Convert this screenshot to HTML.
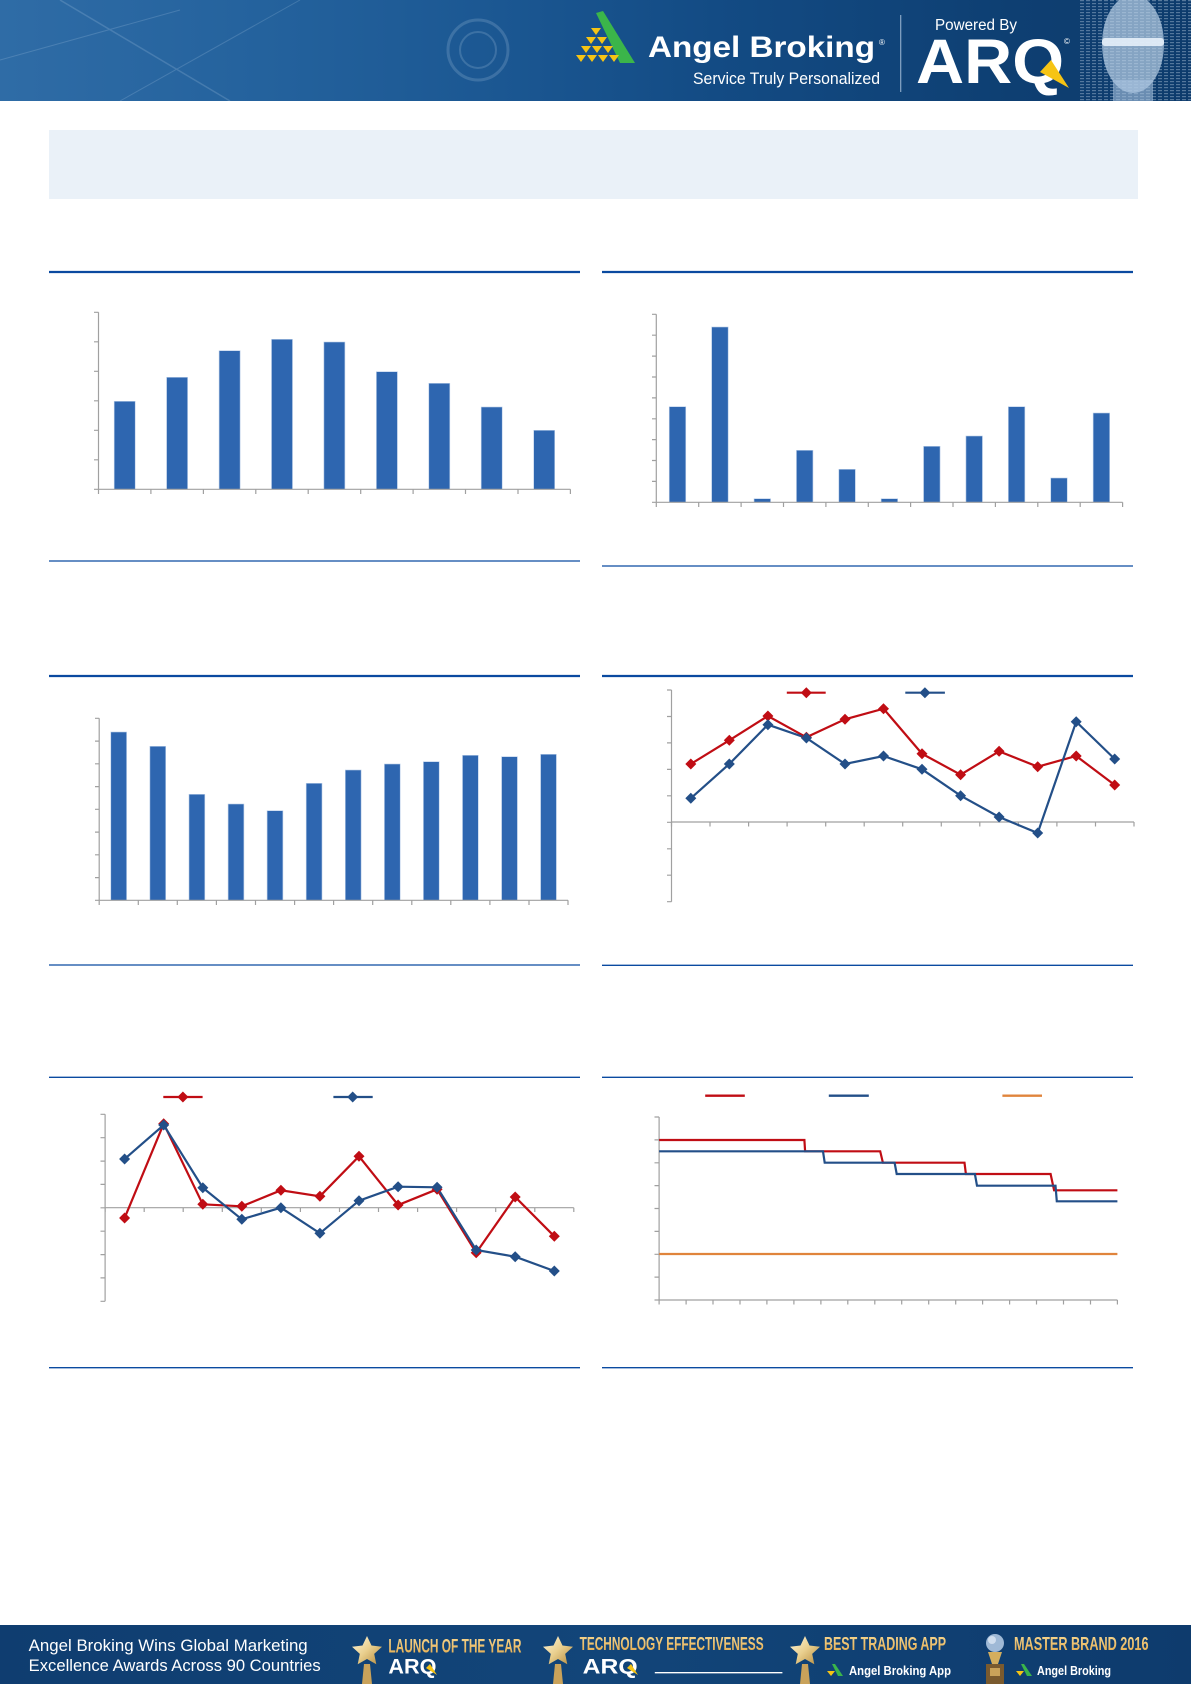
<!DOCTYPE html>
<html><head><meta charset="utf-8"><style>
html,body{margin:0;padding:0;background:#fff;}
svg{display:block;}
</style></head><body>
<svg width="1191" height="1684" viewBox="0 0 1191 1684" xmlns="http://www.w3.org/2000/svg" font-family="'Liberation Sans', sans-serif">
<defs>
<linearGradient id="hdr" x1="0" y1="0" x2="1" y2="0">
<stop offset="0" stop-color="#2f6ca6"/><stop offset="0.22" stop-color="#24629d"/><stop offset="0.42" stop-color="#1b5792"/><stop offset="0.6" stop-color="#134b84"/><stop offset="0.85" stop-color="#0e3f72"/><stop offset="1" stop-color="#0d3b6c"/>
</linearGradient>
<linearGradient id="ftr" x1="0" y1="0" x2="1" y2="0">
<stop offset="0" stop-color="#0f3d70"/><stop offset="0.5" stop-color="#124579"/><stop offset="1" stop-color="#0e3b6d"/>
</linearGradient>
<linearGradient id="gold" x1="0" y1="0" x2="0" y2="1">
<stop offset="0" stop-color="#f7d894"/><stop offset="1" stop-color="#e2a94a"/>
</linearGradient>
<linearGradient id="star" x1="0" y1="0" x2="1" y2="1">
<stop offset="0" stop-color="#fff6dc"/><stop offset="0.5" stop-color="#e9cf8e"/><stop offset="1" stop-color="#b58a3c"/>
</linearGradient>
<pattern id="dash" width="6" height="3" patternUnits="userSpaceOnUse"><rect x="0" y="0" width="4" height="1.2" fill="#d8e6f4"/></pattern>
</defs>

<!-- HEADER -->
<rect x="0" y="0" width="1191" height="101" fill="url(#hdr)"/>
<g opacity="0.18" stroke="#cfe2f5" fill="none">
<line x1="60" y1="0" x2="230" y2="101" stroke-width="1.5"/>
<line x1="0" y1="60" x2="180" y2="10" stroke-width="1"/>
<line x1="120" y1="101" x2="300" y2="0" stroke-width="1"/>
<circle cx="478" cy="50" r="30" stroke-width="3"/>
<circle cx="478" cy="50" r="18" stroke-width="2"/>
</g>
<rect x="1078" y="0" width="113" height="101" fill="url(#dash)" opacity="0.35"/>
<ellipse cx="1133" cy="44" rx="31" ry="49" fill="#b9d0e7" opacity="0.7"/>
<rect x="1113" y="80" width="40" height="21" fill="#a8c3df" opacity="0.6"/>
<rect x="1102" y="38" width="62" height="8" rx="3" fill="#e6eff9" opacity="0.9"/>
<!-- logo icon -->
<polygon points="596,13 603,11 635,63 620,63" fill="#3bb54a"/>
<g fill="#f6c414">
<polygon points="591,28 601,28 596,35"/>
<polygon points="586,37 596,37 591,44"/><polygon points="597,37 607,37 602,44"/>
<polygon points="581,46 591,46 586,53"/><polygon points="592,46 602,46 597,53"/><polygon points="603,46 613,46 608,53"/>
<polygon points="576,55 586,55 581,62"/><polygon points="587,55 597,55 592,62"/><polygon points="598,55 608,55 603,62"/><polygon points="609,55 619,55 614,62"/>
</g>
<text x="648" y="57" font-size="30" font-weight="bold" fill="#fff" textLength="227" lengthAdjust="spacingAndGlyphs">Angel Broking</text>
<text x="879" y="45" font-size="8" fill="#fff">®</text>
<text x="693" y="84" font-size="17" fill="#fff" textLength="187" lengthAdjust="spacingAndGlyphs">Service Truly Personalized</text>
<line x1="900.7" y1="15" x2="900.7" y2="92" stroke="#8aa7c6" stroke-width="1.2"/>
<text x="935" y="30" font-size="15.5" fill="#fff" textLength="82" lengthAdjust="spacingAndGlyphs">Powered By</text>
<text x="916" y="83" font-size="63" font-weight="bold" fill="#fff" textLength="148" lengthAdjust="spacingAndGlyphs">ARQ</text>
<polygon points="1040,72 1051,60 1069,88" fill="#f6c414"/>
<text x="1064" y="44" font-size="8" fill="#fff">©</text>

<!-- summary band -->
<rect x="49" y="130" width="1089" height="69" fill="#eaf1f8"/>

<!-- section lines -->
<g stroke="#0a4aa0">
<line x1="49" y1="272" x2="580" y2="272" stroke-width="2.2"/>
<line x1="602" y1="272" x2="1133" y2="272" stroke-width="2.2"/>
<line x1="49" y1="561" x2="580" y2="561" stroke-width="1.3"/>
<line x1="602" y1="566" x2="1133" y2="566" stroke-width="1.3"/>
<line x1="49" y1="676" x2="580" y2="676" stroke-width="2.2"/>
<line x1="602" y1="676" x2="1133" y2="676" stroke-width="2.2"/>
<line x1="49" y1="965" x2="580" y2="965" stroke-width="1.3"/>
<line x1="602" y1="965.3" x2="1133" y2="965.3" stroke-width="1.3"/>
<line x1="49" y1="1077.3" x2="580" y2="1077.3" stroke-width="1.4"/>
<line x1="602" y1="1077.3" x2="1133" y2="1077.3" stroke-width="1.4"/>
<line x1="49" y1="1367.7" x2="580" y2="1367.7" stroke-width="1.3"/>
<line x1="602" y1="1367.7" x2="1133" y2="1367.7" stroke-width="1.3"/>
</g>

<!-- CHART 1 -->
<g fill="#2e66b0" stroke="#b9cde8" stroke-width="0.6">
<rect x="114.2" y="401.3" width="21" height="88"/>
<rect x="166.6" y="377.3" width="21" height="112"/>
<rect x="219.1" y="350.7" width="21" height="138.6"/>
<rect x="271.5" y="339.3" width="21" height="150"/>
<rect x="323.9" y="342" width="21" height="147.3"/>
<rect x="376.4" y="371.7" width="21" height="117.6"/>
<rect x="428.8" y="383.3" width="21" height="106"/>
<rect x="481.2" y="407" width="21" height="82.3"/>
<rect x="533.7" y="430.3" width="21" height="59"/>
</g>
<g stroke="#a0a0a0" stroke-width="1.2" fill="none">
<line x1="98.5" y1="312.3" x2="98.5" y2="489.3"/>
<line x1="98.5" y1="489.3" x2="570.4" y2="489.3"/>
<path d="M94 312.3H98.5M94 341.8H98.5M94 371.3H98.5M94 400.8H98.5M94 430.3H98.5M94 459.8H98.5M94 489.3H98.5"/>
<path d="M98.5 489.3V494M150.9 489.3V494M203.4 489.3V494M255.8 489.3V494M308.2 489.3V494M360.7 489.3V494M413.1 489.3V494M465.5 489.3V494M518 489.3V494M570.4 489.3V494"/>
</g>

<!-- CHART 2 -->
<g fill="#2e66b0" stroke="#b9cde8" stroke-width="0.6">
<rect x="669.25" y="406.7" width="16.5" height="95.6"/>
<rect x="711.65" y="327" width="16.5" height="175.3"/>
<rect x="754.05" y="498.7" width="16.5" height="3.6"/>
<rect x="796.45" y="450.3" width="16.5" height="52"/>
<rect x="838.85" y="469.3" width="16.5" height="33"/>
<rect x="881.15" y="498.7" width="16.5" height="3.6"/>
<rect x="923.55" y="446.3" width="16.5" height="56"/>
<rect x="965.95" y="436" width="16.5" height="66.3"/>
<rect x="1008.35" y="406.7" width="16.5" height="95.6"/>
<rect x="1050.75" y="478" width="16.5" height="24.3"/>
<rect x="1093.15" y="413" width="16.5" height="89.3"/>
</g>
<g stroke="#a0a0a0" stroke-width="1.2" fill="none">
<line x1="656.3" y1="314.3" x2="656.3" y2="502.3"/>
<line x1="656.3" y1="502.3" x2="1122.6" y2="502.3"/>
<path d="M652 314.3H656.3M652 335.2H656.3M652 356.1H656.3M652 377H656.3M652 397.9H656.3M652 418.8H656.3M652 439.6H656.3M652 460.5H656.3M652 481.4H656.3M652 502.3H656.3"/>
<path d="M656.3 502.3V507M698.7 502.3V507M741.1 502.3V507M783.5 502.3V507M825.9 502.3V507M868.3 502.3V507M910.6 502.3V507M953 502.3V507M995.4 502.3V507M1037.8 502.3V507M1080.2 502.3V507M1122.6 502.3V507"/>
</g>

<!-- CHART 3 -->
<g fill="#2e66b0" stroke="#b9cde8" stroke-width="0.6">
<rect x="110.8" y="732" width="15.8" height="168.3"/>
<rect x="149.9" y="746.3" width="15.8" height="154"/>
<rect x="189" y="794.3" width="15.8" height="106"/>
<rect x="228.1" y="804" width="15.8" height="96.3"/>
<rect x="267.1" y="810.7" width="15.8" height="89.6"/>
<rect x="306.2" y="783.3" width="15.8" height="117"/>
<rect x="345.3" y="770" width="15.8" height="130.3"/>
<rect x="384.4" y="764" width="15.8" height="136.3"/>
<rect x="423.4" y="761.7" width="15.8" height="138.6"/>
<rect x="462.5" y="755.3" width="15.8" height="145"/>
<rect x="501.6" y="756.7" width="15.8" height="143.6"/>
<rect x="540.6" y="754.3" width="15.8" height="146"/>
</g>
<g stroke="#a0a0a0" stroke-width="1.2" fill="none">
<line x1="99.2" y1="718.3" x2="99.2" y2="900.3"/>
<line x1="99.2" y1="900.3" x2="568" y2="900.3"/>
<path d="M95 718.3H99.2M95 741.1H99.2M95 763.8H99.2M95 786.6H99.2M95 809.3H99.2M95 832.1H99.2M95 854.8H99.2M95 877.6H99.2M95 900.3H99.2"/>
<path d="M99.2 900.3V905M138.3 900.3V905M177.3 900.3V905M216.4 900.3V905M255.5 900.3V905M294.6 900.3V905M333.6 900.3V905M372.7 900.3V905M411.8 900.3V905M450.8 900.3V905M489.9 900.3V905M529 900.3V905M568 900.3V905"/>
</g>

<!-- CHART 4 -->
<g stroke="#a0a0a0" stroke-width="1.2" fill="none">
<line x1="671.5" y1="690" x2="671.5" y2="901.7"/>
<line x1="671.5" y1="822" x2="1134" y2="822"/>
<path d="M667 690H671.5M667 716.5H671.5M667 742.9H671.5M667 769.4H671.5M667 795.8H671.5M667 822.3H671.5M667 848.8H671.5M667 875.2H671.5M667 901.7H671.5"/>
<path d="M671.5 822V826.5M710 822V826.5M748.6 822V826.5M787.1 822V826.5M825.7 822V826.5M864.2 822V826.5M902.7 822V826.5M941.3 822V826.5M979.8 822V826.5M1018.4 822V826.5M1056.9 822V826.5M1095.5 822V826.5M1134 822V826.5"/>
</g>
<polyline fill="none" stroke="#c00d14" stroke-width="2.2" points="690.8,764 729.3,740.3 767.9,716 806.4,737.3 845,719.3 883.5,708.7 922,753.7 960.6,774.7 999.1,751.3 1037.7,766.7 1076.2,756 1114.7,785"/>
<polyline fill="none" stroke="#234f88" stroke-width="2.2" points="690.8,798.3 729.3,764 767.9,724.7 806.4,738 845,764 883.5,756 922,769.3 960.6,795.7 999.1,817 1037.7,833 1076.2,721.7 1114.7,759"/>
<g fill="#c00d14">
<path d="M690.8 758.5l5.5 5.5-5.5 5.5-5.5-5.5z"/><path d="M729.3 734.8l5.5 5.5-5.5 5.5-5.5-5.5z"/><path d="M767.9 710.5l5.5 5.5-5.5 5.5-5.5-5.5z"/><path d="M806.4 731.8l5.5 5.5-5.5 5.5-5.5-5.5z"/><path d="M845 713.8l5.5 5.5-5.5 5.5-5.5-5.5z"/><path d="M883.5 703.2l5.5 5.5-5.5 5.5-5.5-5.5z"/><path d="M922 748.2l5.5 5.5-5.5 5.5-5.5-5.5z"/><path d="M960.6 769.2l5.5 5.5-5.5 5.5-5.5-5.5z"/><path d="M999.1 745.8l5.5 5.5-5.5 5.5-5.5-5.5z"/><path d="M1037.7 761.2l5.5 5.5-5.5 5.5-5.5-5.5z"/><path d="M1076.2 750.5l5.5 5.5-5.5 5.5-5.5-5.5z"/><path d="M1114.7 779.5l5.5 5.5-5.5 5.5-5.5-5.5z"/>
</g>
<g fill="#234f88">
<path d="M690.8 792.8l5.5 5.5-5.5 5.5-5.5-5.5z"/><path d="M729.3 758.5l5.5 5.5-5.5 5.5-5.5-5.5z"/><path d="M767.9 719.2l5.5 5.5-5.5 5.5-5.5-5.5z"/><path d="M806.4 732.5l5.5 5.5-5.5 5.5-5.5-5.5z"/><path d="M845 758.5l5.5 5.5-5.5 5.5-5.5-5.5z"/><path d="M883.5 750.5l5.5 5.5-5.5 5.5-5.5-5.5z"/><path d="M922 763.8l5.5 5.5-5.5 5.5-5.5-5.5z"/><path d="M960.6 790.2l5.5 5.5-5.5 5.5-5.5-5.5z"/><path d="M999.1 811.5l5.5 5.5-5.5 5.5-5.5-5.5z"/><path d="M1037.7 827.5l5.5 5.5-5.5 5.5-5.5-5.5z"/><path d="M1076.2 716.2l5.5 5.5-5.5 5.5-5.5-5.5z"/><path d="M1114.7 753.5l5.5 5.5-5.5 5.5-5.5-5.5z"/>
</g>
<line x1="786.8" y1="692.7" x2="825.7" y2="692.7" stroke="#c00d14" stroke-width="2.2"/>
<path d="M806.3 687.2l5.5 5.5-5.5 5.5-5.5-5.5z" fill="#c00d14"/>
<line x1="905.3" y1="692.7" x2="944.9" y2="692.7" stroke="#234f88" stroke-width="2.2"/>
<path d="M924.9 687.2l5.5 5.5-5.5 5.5-5.5-5.5z" fill="#234f88"/>

<!-- CHART 5 -->
<g stroke="#a0a0a0" stroke-width="1.2" fill="none">
<line x1="105.1" y1="1114.3" x2="105.1" y2="1301.3"/>
<line x1="105.1" y1="1207.7" x2="573.8" y2="1207.7"/>
<path d="M100.5 1114.3H105.1M100.5 1137.7H105.1M100.5 1161.1H105.1M100.5 1184.4H105.1M100.5 1207.8H105.1M100.5 1231.2H105.1M100.5 1254.6H105.1M100.5 1277.9H105.1M100.5 1301.3H105.1"/>
<path d="M105.1 1207.7V1212M144.2 1207.7V1212M183.2 1207.7V1212M222.3 1207.7V1212M261.3 1207.7V1212M300.4 1207.7V1212M339.5 1207.7V1212M378.5 1207.7V1212M417.6 1207.7V1212M456.6 1207.7V1212M495.7 1207.7V1212M534.8 1207.7V1212M573.8 1207.7V1212"/>
</g>
<polyline fill="none" stroke="#c00d14" stroke-width="2.2" points="124.6,1218 163.7,1123.7 202.8,1204.3 241.8,1206.3 280.9,1190.3 319.9,1196.3 359,1156.3 398.1,1205 437.1,1189.3 476.2,1252.7 515.2,1197 554.3,1236.3"/>
<polyline fill="none" stroke="#234f88" stroke-width="2.2" points="124.6,1159 163.7,1125 202.8,1187.7 241.8,1219.3 280.9,1207.7 319.9,1233.3 359,1200.7 398.1,1186.7 437.1,1187.3 476.2,1250 515.2,1256.7 554.3,1271"/>
<g fill="#c00d14">
<path d="M124.6 1212.5l5.5 5.5-5.5 5.5-5.5-5.5z"/><path d="M163.7 1118.2l5.5 5.5-5.5 5.5-5.5-5.5z"/><path d="M202.8 1198.8l5.5 5.5-5.5 5.5-5.5-5.5z"/><path d="M241.8 1200.8l5.5 5.5-5.5 5.5-5.5-5.5z"/><path d="M280.9 1184.8l5.5 5.5-5.5 5.5-5.5-5.5z"/><path d="M319.9 1190.8l5.5 5.5-5.5 5.5-5.5-5.5z"/><path d="M359 1150.8l5.5 5.5-5.5 5.5-5.5-5.5z"/><path d="M398.1 1199.5l5.5 5.5-5.5 5.5-5.5-5.5z"/><path d="M437.1 1183.8l5.5 5.5-5.5 5.5-5.5-5.5z"/><path d="M476.2 1247.2l5.5 5.5-5.5 5.5-5.5-5.5z"/><path d="M515.2 1191.5l5.5 5.5-5.5 5.5-5.5-5.5z"/><path d="M554.3 1230.8l5.5 5.5-5.5 5.5-5.5-5.5z"/>
</g>
<g fill="#234f88">
<path d="M124.6 1153.5l5.5 5.5-5.5 5.5-5.5-5.5z"/><path d="M163.7 1119.5l5.5 5.5-5.5 5.5-5.5-5.5z"/><path d="M202.8 1182.2l5.5 5.5-5.5 5.5-5.5-5.5z"/><path d="M241.8 1213.8l5.5 5.5-5.5 5.5-5.5-5.5z"/><path d="M280.9 1202.2l5.5 5.5-5.5 5.5-5.5-5.5z"/><path d="M319.9 1227.8l5.5 5.5-5.5 5.5-5.5-5.5z"/><path d="M359 1195.2l5.5 5.5-5.5 5.5-5.5-5.5z"/><path d="M398.1 1181.2l5.5 5.5-5.5 5.5-5.5-5.5z"/><path d="M437.1 1181.8l5.5 5.5-5.5 5.5-5.5-5.5z"/><path d="M476.2 1244.5l5.5 5.5-5.5 5.5-5.5-5.5z"/><path d="M515.2 1251.2l5.5 5.5-5.5 5.5-5.5-5.5z"/><path d="M554.3 1265.5l5.5 5.5-5.5 5.5-5.5-5.5z"/>
</g>
<line x1="163.3" y1="1097" x2="202.6" y2="1097" stroke="#c00d14" stroke-width="2.2"/>
<path d="M182.9 1091.5l5.5 5.5-5.5 5.5-5.5-5.5z" fill="#c00d14"/>
<line x1="333.4" y1="1097" x2="372.7" y2="1097" stroke="#234f88" stroke-width="2.2"/>
<path d="M352.7 1091.5l5.5 5.5-5.5 5.5-5.5-5.5z" fill="#234f88"/>

<!-- CHART 6 -->
<g stroke="#a0a0a0" stroke-width="1.2" fill="none">
<line x1="659.1" y1="1117" x2="659.1" y2="1300"/>
<line x1="659.1" y1="1300" x2="1117.4" y2="1300"/>
<path d="M654.5 1117H659.1M654.5 1139.9H659.1M654.5 1162.8H659.1M654.5 1185.6H659.1M654.5 1208.5H659.1M654.5 1231.4H659.1M654.5 1254.3H659.1M654.5 1277.1H659.1M654.5 1300H659.1"/>
<path d="M659.1 1300V1304.5M686.1 1300V1304.5M713 1300V1304.5M740 1300V1304.5M766.9 1300V1304.5M793.9 1300V1304.5M820.9 1300V1304.5M847.8 1300V1304.5M874.8 1300V1304.5M901.7 1300V1304.5M928.7 1300V1304.5M955.7 1300V1304.5M982.6 1300V1304.5M1009.6 1300V1304.5M1036.5 1300V1304.5M1063.5 1300V1304.5M1090.5 1300V1304.5M1117.4 1300V1304.5"/>
</g>
<line x1="659.1" y1="1254" x2="1117.4" y2="1254" stroke="#e0843c" stroke-width="2.2"/>
<polyline fill="none" stroke="#c00d14" stroke-width="2.2" points="659.1,1140 804.4,1140 805.1,1151.3 880.2,1151.3 882.9,1162.7 964.5,1162.7 965.9,1174 1050.6,1174 1054.1,1190.3 1117.4,1190.3"/>
<polyline fill="none" stroke="#234f88" stroke-width="2.2" points="659.1,1151.3 823,1151.3 824.7,1162.7 894.6,1162.7 896.7,1174 974.9,1174 977,1185.7 1055.5,1185.7 1056.8,1201.3 1117.4,1201.3"/>
<line x1="705.2" y1="1095.7" x2="744.8" y2="1095.7" stroke="#c00d14" stroke-width="2.4"/>
<line x1="828.8" y1="1095.7" x2="868.8" y2="1095.7" stroke="#234f88" stroke-width="2.4"/>
<line x1="1002.4" y1="1095.7" x2="1042" y2="1095.7" stroke="#e0843c" stroke-width="2.4"/>

<!-- FOOTER -->
<rect x="0" y="1625" width="1191" height="59" fill="url(#ftr)"/>
<text x="28.7" y="1651" font-size="16.5" fill="#fff" textLength="279" lengthAdjust="spacingAndGlyphs">Angel Broking Wins Global Marketing</text>
<text x="28.7" y="1671" font-size="16.5" fill="#fff" textLength="292" lengthAdjust="spacingAndGlyphs">Excellence Awards Across 90 Countries</text>

<!-- award 1 -->
<path d="M367 1636l4.5 9.5 10.5 1.2-7.8 7.2 2.1 10.3-9.3-5.2-9.3 5.2 2.1-10.3-7.8-7.2 10.5-1.2z" fill="url(#star)"/>
<path d="M364 1664h6l2 20h-10z" fill="#c9a25a"/>
<text x="388.4" y="1652.3" font-size="19.5" font-weight="bold" fill="url(#gold)" textLength="133" lengthAdjust="spacingAndGlyphs">LAUNCH OF THE YEAR</text>
<text x="388.4" y="1673.3" font-size="21" font-weight="bold" fill="#fff" textLength="48" lengthAdjust="spacingAndGlyphs">ARQ</text>
<polygon points="426,1668 430,1664 437,1675" fill="#f6c414"/>

<!-- award 2 -->
<path d="M558 1636l4.5 9.5 10.5 1.2-7.8 7.2 2.1 10.3-9.3-5.2-9.3 5.2 2.1-10.3-7.8-7.2 10.5-1.2z" fill="url(#star)"/>
<path d="M555 1664h6l2 20h-10z" fill="#c9a25a"/>
<text x="579.6" y="1650" font-size="18" font-weight="bold" fill="url(#gold)" textLength="184" lengthAdjust="spacingAndGlyphs">TECHNOLOGY EFFECTIVENESS</text>
<text x="582.6" y="1673.3" font-size="21" font-weight="bold" fill="#fff" textLength="55" lengthAdjust="spacingAndGlyphs">ARQ</text>
<polygon points="627,1668 631,1664 638,1675" fill="#f6c414"/>
<line x1="654.8" y1="1672.7" x2="782.4" y2="1672.7" stroke="#fff" stroke-width="1.3"/>

<!-- award 3 -->
<path d="M805 1636l4.5 9.5 10.5 1.2-7.8 7.2 2.1 10.3-9.3-5.2-9.3 5.2 2.1-10.3-7.8-7.2 10.5-1.2z" fill="url(#star)"/>
<path d="M802 1664h6l2 20h-10z" fill="#c9a25a"/>
<text x="824" y="1650" font-size="18" font-weight="bold" fill="url(#gold)" textLength="122" lengthAdjust="spacingAndGlyphs">BEST TRADING APP</text>
<polygon points="832,1664 835,1664 843,1676 838,1676" fill="#3bb54a"/>
<polygon points="827,1671 835,1671 831,1676" fill="#f6c414"/>
<text x="849" y="1675" font-size="13" font-weight="bold" fill="#fff" textLength="102" lengthAdjust="spacingAndGlyphs">Angel Broking App</text>

<!-- award 4 -->
<circle cx="995" cy="1643" r="9" fill="#9fb9d6"/>
<circle cx="992" cy="1640" r="4" fill="#e6eef8" opacity="0.7"/>
<path d="M988 1652h14l-4 12h-6z" fill="#d4ae5e"/>
<rect x="986" y="1664" width="18" height="20" fill="#7a5a2e"/>
<rect x="990" y="1668" width="10" height="8" fill="#c9a25a"/>
<text x="1014" y="1650" font-size="18" font-weight="bold" fill="url(#gold)" textLength="134.5" lengthAdjust="spacingAndGlyphs">MASTER BRAND 2016</text>
<polygon points="1021,1664 1024,1664 1032,1676 1027,1676" fill="#3bb54a"/>
<polygon points="1016,1671 1024,1671 1020,1676" fill="#f6c414"/>
<text x="1037" y="1675" font-size="13" font-weight="bold" fill="#fff" textLength="74" lengthAdjust="spacingAndGlyphs">Angel Broking</text>
</svg>
</body></html>
